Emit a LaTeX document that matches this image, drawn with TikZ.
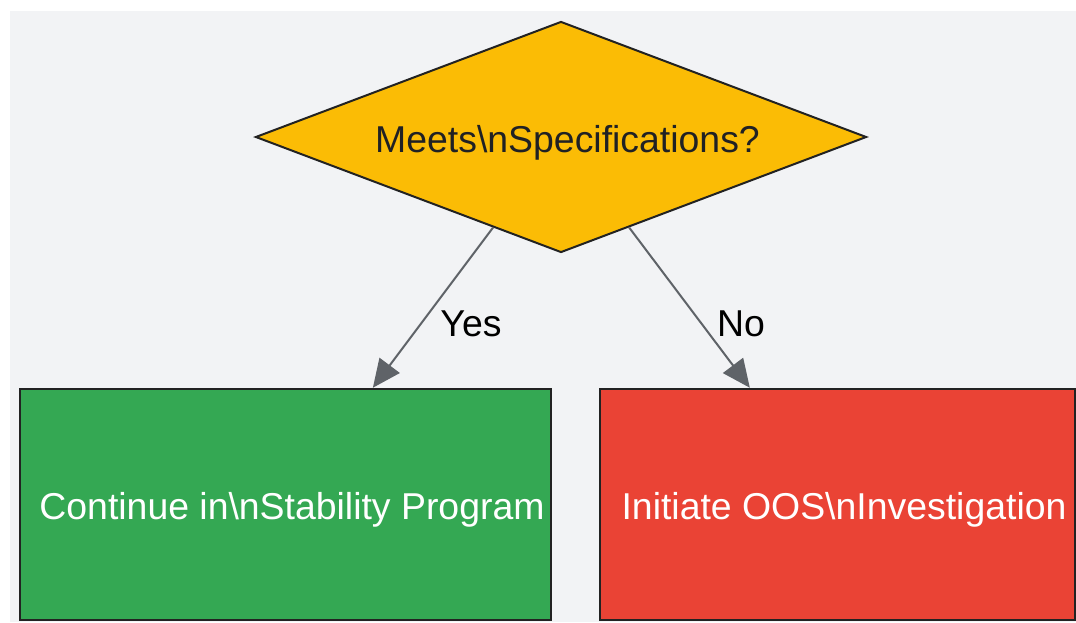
\documentclass[tikz,border=0pt]{standalone}
\usepackage{fontspec}
\setmainfont{Liberation Sans}
\usetikzlibrary{shapes.geometric,arrows.meta}
\definecolor{bgGray}{HTML}{F2F3F5}
\definecolor{edgeDark}{HTML}{222222}
\definecolor{flowGray}{HTML}{5F6368}
\definecolor{checkYellow}{HTML}{FBBC05}
\definecolor{passGreen}{HTML}{34A853}
\definecolor{failRed}{HTML}{EA4335}
\definecolor{textDark}{HTML}{202124}
\begin{document}
\begin{tikzpicture}[x=1pt, y=-1pt,
  every node/.style={font=\fontsize{37.4}{44}\selectfont},
  boxtext/.style={text height=30pt, text depth=0pt,
    execute at begin node={\hspace*{13pt}}},
  decision/.style={diamond, boxtext, draw=edgeDark, fill=checkYellow, line width=2pt,
    aspect=2.645, minimum width=611pt, minimum height=231pt, inner sep=0pt,
    text=textDark},
  outcome/.style={rectangle, boxtext, draw=edgeDark, line width=2.5pt,
    minimum height=231pt, inner sep=0pt, text=white},
  flow/.style={draw=flowGray, line width=2pt,
    -{Triangle[length=28pt,width=25pt,fill=flowGray]}}] % {{{
% Fondo   {{{
\useasboundingbox (0,0) rectangle (1076,622);
\fill[bgGray] (10,11) rectangle (1076,622); % }}}
% Nodos   {{{
\node[decision] (meets) at (561,137) {Meets\textbackslash nSpecifications?};
\node[outcome, fill=passGreen, minimum width=531pt] (cont) at (285.5,504.5)
  {Continue in\textbackslash nStability Program};
\node[outcome, fill=failRed, minimum width=475pt] (oos) at (837.5,504.5)
  {Initiate OOS\textbackslash nInvestigation}; % }}}
% Flechas   {{{
\draw[flow] (meets) -- (cont);
\draw[flow] (meets) -- (oos);
\node (yes) at (471,324) {Yes};
\node (no) at (741,324) {No}; % }}}
\end{tikzpicture} % }}}
\end{document}
